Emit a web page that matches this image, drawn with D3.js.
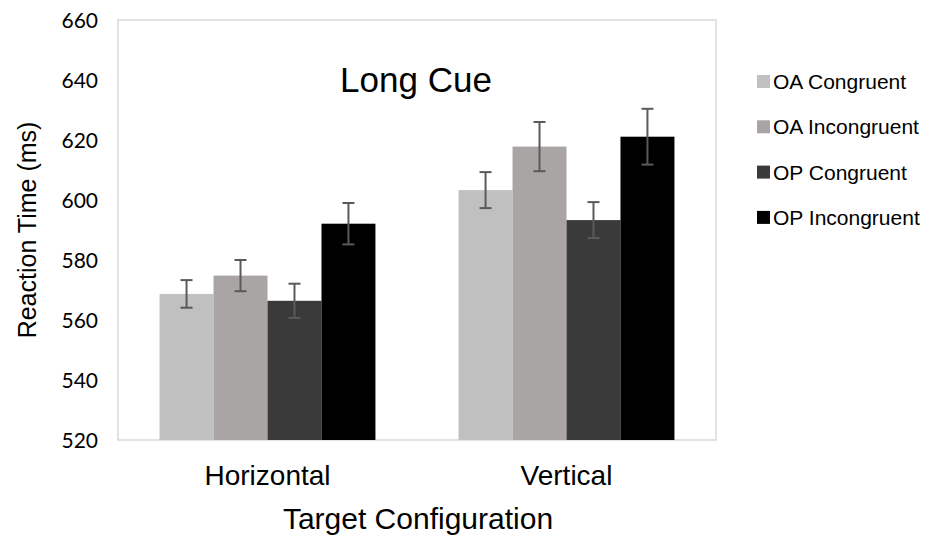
<!DOCTYPE html>
<html>
<head>
<meta charset="utf-8">
<script src="https://cdn.jsdelivr.net/npm/d3@7"></script>
<style>
  body { margin: 0; background: #fff; }
  text { font-family: "Liberation Sans", Arial, sans-serif; fill: #000; }
</style>
</head>
<body>
<svg id="chart"></svg>
<script>
// Chart data
var categories = ['Horizontal', 'Vertical'];
var seriesNames = ['OA Congruent', 'OA Incongruent', 'OP Congruent', 'OP Incongruent'];
var seriesColors = ['#c0c0c0', '#a8a5a4', '#3a3a3a', '#000000'];
var oaCongruent = [568.7, 603.3];
var oaIncongruent = [574.8, 617.8];
var opCongruent = [566.4, 593.3];
var opIncongruent = [592.1, 621.1];
var oaCongruentErr = [4.6, 6.0];
var oaIncongruentErr = [5.2, 8.2];
var opCongruentErr = [5.7, 6.0];
var opIncongruentErr = [6.9, 9.3];
var yTicks = [520, 540, 560, 580, 600, 620, 640, 660];

var values = [oaCongruent, oaIncongruent, opCongruent, opIncongruent];
var errors = [oaCongruentErr, oaIncongruentErr, opCongruentErr, opIncongruentErr];

var width = 929, height = 539;
var svg = d3.select('#chart').attr('width', width).attr('height', height);

// plot area edges
var plotLeft = 118, plotRight = 716, plotTop = 20, plotBottom = 440;

// Scales
var x0 = d3.scaleBand().domain(categories).range([plotLeft, plotRight]).padding(0);
var x1 = d3.scaleBand().domain(seriesNames).range([0, x0.bandwidth()])
    .paddingInner(0).paddingOuter(0.77);
var y = d3.scaleLinear().domain([520, 660]).range([plotBottom, plotTop]);

// Plot border
svg.append('rect')
    .attr('x', plotLeft).attr('y', plotTop)
    .attr('width', plotRight - plotLeft).attr('height', plotBottom - plotTop)
    .attr('fill', 'none').attr('stroke', '#d9d9d9').attr('stroke-width', 1.5);

// Flatten data
var rows = [];
categories.forEach(function(c, ci) {
    seriesNames.forEach(function(s, si) {
        rows.push({ cat: c, series: s, color: seriesColors[si], value: values[si][ci], err: errors[si][ci] });
    });
});

// Bars
svg.append('g').selectAll('rect')
    .data(rows)
    .enter()
    .append('rect')
    .attr('x', function(d) { return x0(d.cat) + x1(d.series); })
    .attr('y', function(d) { return y(d.value); })
    .attr('width', x1.bandwidth())
    .attr('height', function(d) { return y(520) - y(d.value); })
    .attr('fill', function(d) { return d.color; });

// Error bars
var eb = svg.append('g').attr('stroke', '#5a5a5a').attr('stroke-width', 2);
rows.forEach(function(d) {
    var cx = x0(d.cat) + x1(d.series) + x1.bandwidth() / 2;
    eb.append('line').attr('x1', cx).attr('x2', cx)
        .attr('y1', y(d.value + d.err)).attr('y2', y(d.value - d.err));
    eb.append('line').attr('x1', cx - 6).attr('x2', cx + 6)
        .attr('y1', y(d.value + d.err)).attr('y2', y(d.value + d.err));
    eb.append('line').attr('x1', cx - 6).attr('x2', cx + 6)
        .attr('y1', y(d.value - d.err)).attr('y2', y(d.value - d.err));
});

// Y axis (labels only)
var yAxis = svg.append('g')
    .attr('transform', 'translate(' + (plotLeft - 20) + ',0)')
    .call(d3.axisLeft(y).tickValues(yTicks).tickSize(0).tickPadding(0));
yAxis.select('.domain').remove();
yAxis.selectAll('text')
    .style('font-family', 'Lato, "Open Sans", sans-serif')
    .style('font-size', '21px')
    .attr('dy', '0.35em')
    .attr('fill', '#000');

// X axis (labels only)
var xAxis = svg.append('g')
    .attr('transform', 'translate(0,' + plotBottom + ')')
    .call(d3.axisBottom(x0).tickSize(0).tickPadding(0));
xAxis.select('.domain').remove();
xAxis.selectAll('text')
    .style('font-family', '"Liberation Sans", Arial, sans-serif')
    .style('font-size', '28px')
    .attr('dy', null)
    .attr('y', 45)
    .attr('fill', '#000');

// Axis titles
svg.append('text')
    .attr('x', 418).attr('y', 529)
    .attr('text-anchor', 'middle')
    .style('font-size', '30px')
    .text('Target Configuration');

svg.append('text')
    .attr('transform', 'translate(36,230) rotate(-90)')
    .attr('text-anchor', 'middle')
    .style('font-size', '25px')
    .text('Reaction Time (ms)');

// Chart title
svg.append('text')
    .attr('x', 416).attr('y', 92)
    .attr('text-anchor', 'middle')
    .style('font-size', '35px')
    .text('Long Cue');

// Legend
var legend = svg.append('g').selectAll('g')
    .data(seriesNames)
    .enter()
    .append('g')
    .attr('transform', function(d, i) { return 'translate(757,' + (89 + i * 45.3) + ')'; });

legend.append('rect')
    .attr('x', 0).attr('y', -14)
    .attr('width', 13).attr('height', 13)
    .attr('fill', function(d, i) { return seriesColors[i]; });

legend.append('text')
    .attr('x', 16).attr('y', 0)
    .style('font-size', '21px')
    .text(function(d) { return d; });
</script>
</body>
</html>
